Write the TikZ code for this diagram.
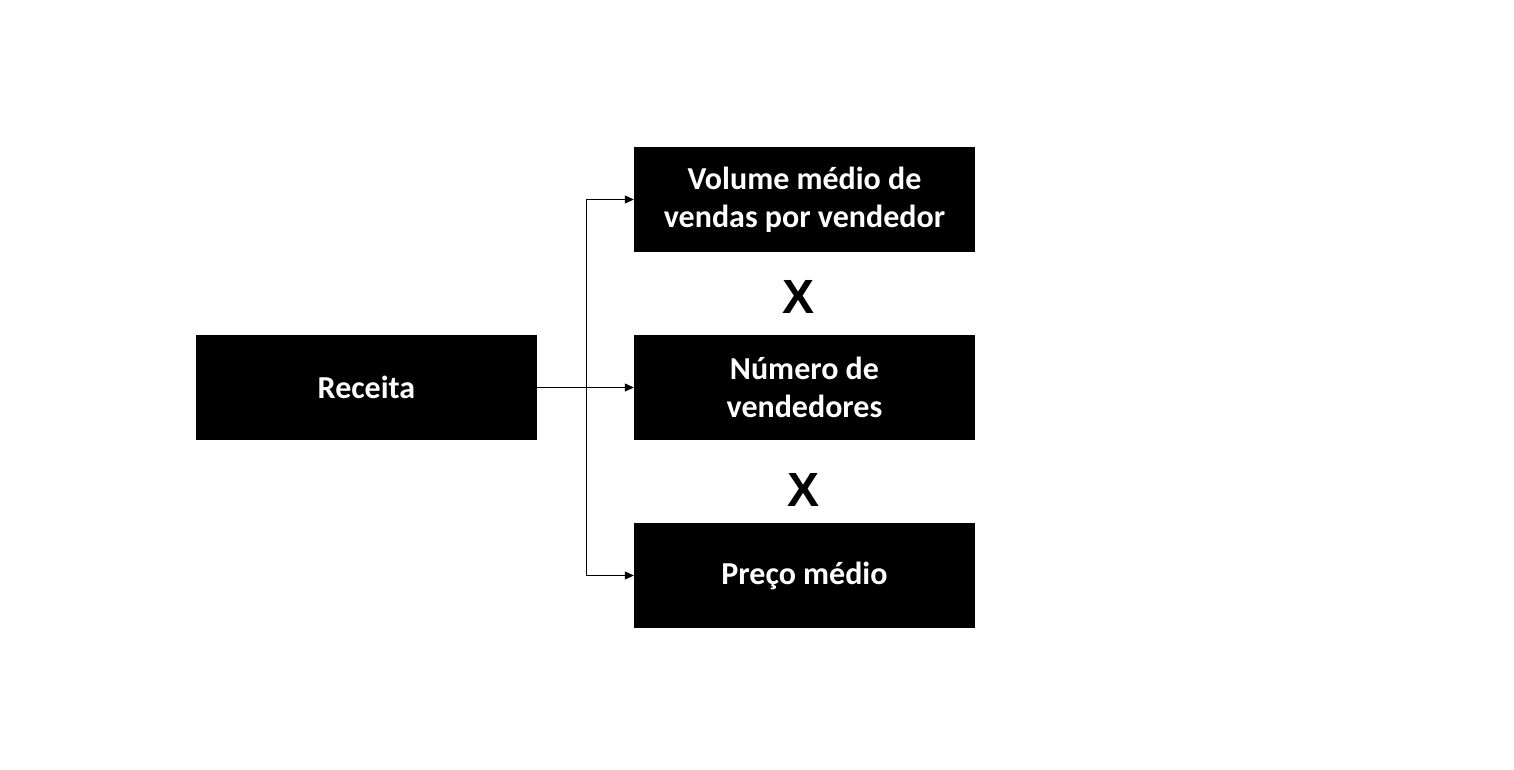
\documentclass[tikz,border=0pt]{standalone}
\usepackage{fontspec}
\setmainfont{Carlito}
\newfontfamily\xfont{Liberation Sans}
\usetikzlibrary{arrows.meta}
\begin{document}
\begin{tikzpicture}[x=1pt,y=-1pt,
  box/.style={fill=black,text=white,minimum width=341pt,minimum height=105pt,inner sep=0pt,align=center,font=\fontsize{32}{38}\selectfont\bfseries},
  conn/.style={draw=black,line width=0.8pt,-{Triangle[length=9pt,width=8pt]}},
  xmark/.style={font=\fontsize{48}{48}\selectfont\xfont\bfseries}]
\useasboundingbox (0,0) rectangle (1514,770);
\node[box] (r) at (366.5,387.5) {Receita};
\node[box] (v) at (804.5,199.5) {Volume médio de\\vendas por vendedor};
\node[box] (n) at (804.5,387.5) {Número de\\vendedores};
\node[box] (p) at (804.5,575.5) {Preço médio};
\node[xmark] (x1) at (798,297) {X};
\node[xmark] (x2) at (803,490) {X};
\coordinate (j) at (586,387.5);
\draw[line width=0.8pt] (r.east) -- (j);
\draw[conn] (j) |- (v.west);
\draw[conn] (j) -- (n.west);
\draw[conn] (j) |- (p.west);
\end{tikzpicture}
\end{document}
